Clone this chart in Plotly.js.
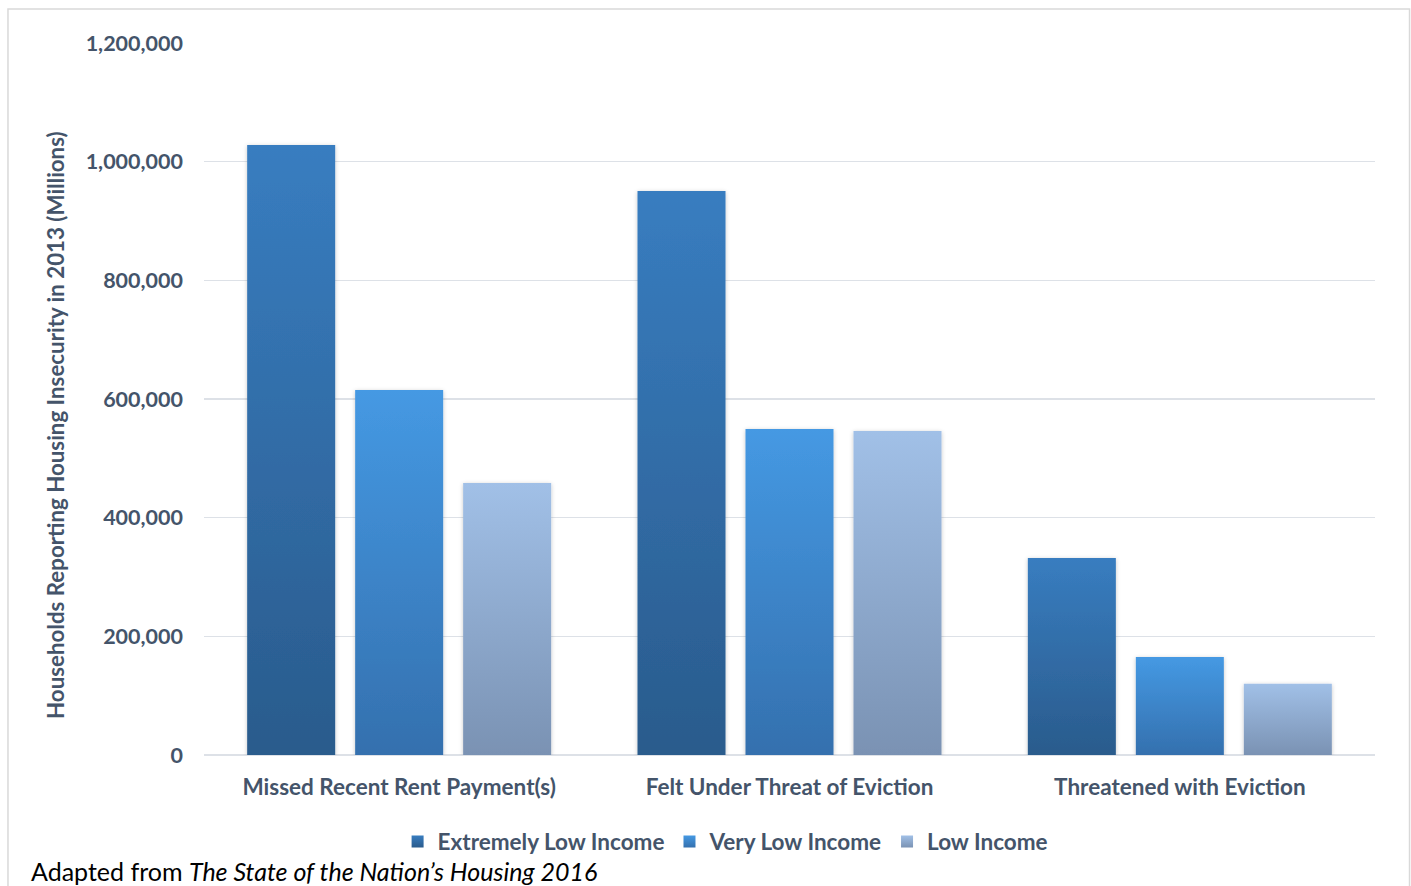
<!DOCTYPE html>
<html>
<head>
<meta charset="utf-8">
<script src="https://cdn.plot.ly/plotly-3.0.1.min.js"></script>
<style>
  html, body { margin: 0; padding: 0; background: #fff; }
  #chart { width: 1411px; height: 886px; }
</style>
</head>
<body>
<div id="chart"></div>
<script>
const categories = ["Missed Recent Rent Payment(s)", "Felt Under Threat of Eviction", "Threatened with Eviction"];
const seriesNames = ["Extremely Low Income", "Very Low Income", "Low Income"];
const extremelyLow = [1028000, 950500, 332000];
const veryLow = [615000, 549500, 165000];
const lowIncome = [458500, 546000, 120000];
const yTickValues = [0, 200000, 400000, 600000, 800000, 1000000, 1200000];
const yTickLabels = ["0", "200,000", "400,000", "600,000", "800,000", "1,000,000", "1,200,000"];
const yTitle = "Households Reporting Housing Insecurity in 2013 (Millions)";
const sourceNote = "Adapted from <i>The State of the Nation\u2019s Housing 2016</i>";

// gradient colours: [bottom, top]
const gradients = [
  ["#2A5B8C", "#387DC0"],
  ["#3470AE", "#4599E3"],
  ["#7A92B3", "#A1C0E7"]
];
const solid = ["#30699F", "#3D86CB", "#8DA9CE"];
const textColor = "#44546A";
const font = "Lato, 'Open Sans', sans-serif";

const values = [extremelyLow, veryLow, lowIncome];
const traces = values.map((v, i) => ({
  type: "bar",
  name: seriesNames[i],
  x: categories,
  y: v,
  marker: { color: solid[i], line: { width: 0 } },
  hoverinfo: "x+y+name"
}));

const layout = {
  width: 1411,
  height: 886,
  paper_bgcolor: "#ffffff",
  plot_bgcolor: "#ffffff",
  margin: { l: 204, r: 36, t: 43, b: 131 },
  barmode: "group",
  bargap: 0.17,
  bargroupgap: 0.185,
  font: { family: font, color: textColor },
  showlegend: true,
  legend: {
    orientation: "h",
    x: 0.445,
    xanchor: "center",
    y: -0.122,
    yanchor: "middle",
    font: { family: font, size: 22.5, color: textColor, weight: "bold" },
    itemwidth: 30,
    traceorder: "normal"
  },
  xaxis: {
    type: "category",
    showgrid: false,
    showline: false,
    ticks: "",
    ticklabelstandoff: 16,
    tickfont: { family: font, size: 22.5, color: textColor, weight: "bold" },
    fixedrange: true
  },
  yaxis: {
    range: [0, 1200000],
    tickvals: yTickValues,
    ticktext: yTickLabels,
    showgrid: true,
    gridcolor: "#DDE1E7",
    gridwidth: 1.5,
    zeroline: true,
    zerolinecolor: "#DDE1E7",
    zerolinewidth: 1.5,
    showline: false,
    ticks: "",
    ticklabelstandoff: 20,
    tickfont: { family: font, size: 21.5, color: textColor, weight: "bold" },
    fixedrange: true
  },
  shapes: [{
    type: "rect",
    xref: "paper", yref: "paper",
    x0: -0.1674, x1: 1.0295, y0: -0.19, y1: 1.0478,
    line: { color: "#D9D9D9", width: 1.5 },
    fillcolor: "rgba(0,0,0,0)",
    layer: "below"
  }],
  annotations: [{
    xref: "paper", yref: "paper",
    x: -0.1264, y: 0.4635,
    xanchor: "center", yanchor: "middle",
    textangle: -90,
    showarrow: false,
    text: yTitle,
    font: { family: font, size: 22.3, color: textColor, weight: "bold" }
  }, {
    xref: "paper", yref: "paper",
    x: -0.1494, y: -0.1629,
    xanchor: "left", yanchor: "middle",
    showarrow: false,
    text: sourceNote,
    font: { family: font, size: 25, color: "#000000" }
  }]
};

Plotly.newPlot("chart", traces, layout, { displayModeBar: false, staticPlot: true }).then(gd => {
  const svgNS = "http://www.w3.org/2000/svg";
  const svg = gd.querySelector(".main-svg");
  let defs = svg.querySelector("defs");
  if (!defs) { defs = document.createElementNS(svgNS, "defs"); svg.insertBefore(defs, svg.firstChild); }
  gradients.forEach((g, i) => {
    const lg = document.createElementNS(svgNS, "linearGradient");
    lg.setAttribute("id", "barGrad" + i);
    lg.setAttribute("x1", "0"); lg.setAttribute("y1", "1");
    lg.setAttribute("x2", "0"); lg.setAttribute("y2", "0");
    const s0 = document.createElementNS(svgNS, "stop");
    s0.setAttribute("offset", "0"); s0.setAttribute("stop-color", g[0]);
    const s1 = document.createElementNS(svgNS, "stop");
    s1.setAttribute("offset", "1"); s1.setAttribute("stop-color", g[1]);
    lg.appendChild(s0); lg.appendChild(s1);
    defs.appendChild(lg);
  });
  const f = document.createElementNS(svgNS, "filter");
  f.setAttribute("id", "barShadow");
  f.setAttribute("x", "-20%"); f.setAttribute("y", "-5%");
  f.setAttribute("width", "140%"); f.setAttribute("height", "110%");
  const ds = document.createElementNS(svgNS, "feDropShadow");
  ds.setAttribute("dx", "0"); ds.setAttribute("dy", "1");
  ds.setAttribute("stdDeviation", "2"); ds.setAttribute("flood-color", "#000");
  ds.setAttribute("flood-opacity", "0.22");
  f.appendChild(ds);
  defs.appendChild(f);

  const barTraces = gd.querySelectorAll(".barlayer .trace");
  barTraces.forEach((t, i) => {
    t.querySelectorAll(".point path").forEach(p => {
      p.style.fill = "url(#barGrad" + i + ")";
      p.setAttribute("filter", "url(#barShadow)");
    });
  });
  const legendTraces = gd.querySelectorAll(".legend .traces");
  legendTraces.forEach((t, i) => {
    t.querySelectorAll(".legendpoints path").forEach(p => {
      p.style.fill = "url(#barGrad" + i + ")";
    });
  });
});
</script>
</body>
</html>
